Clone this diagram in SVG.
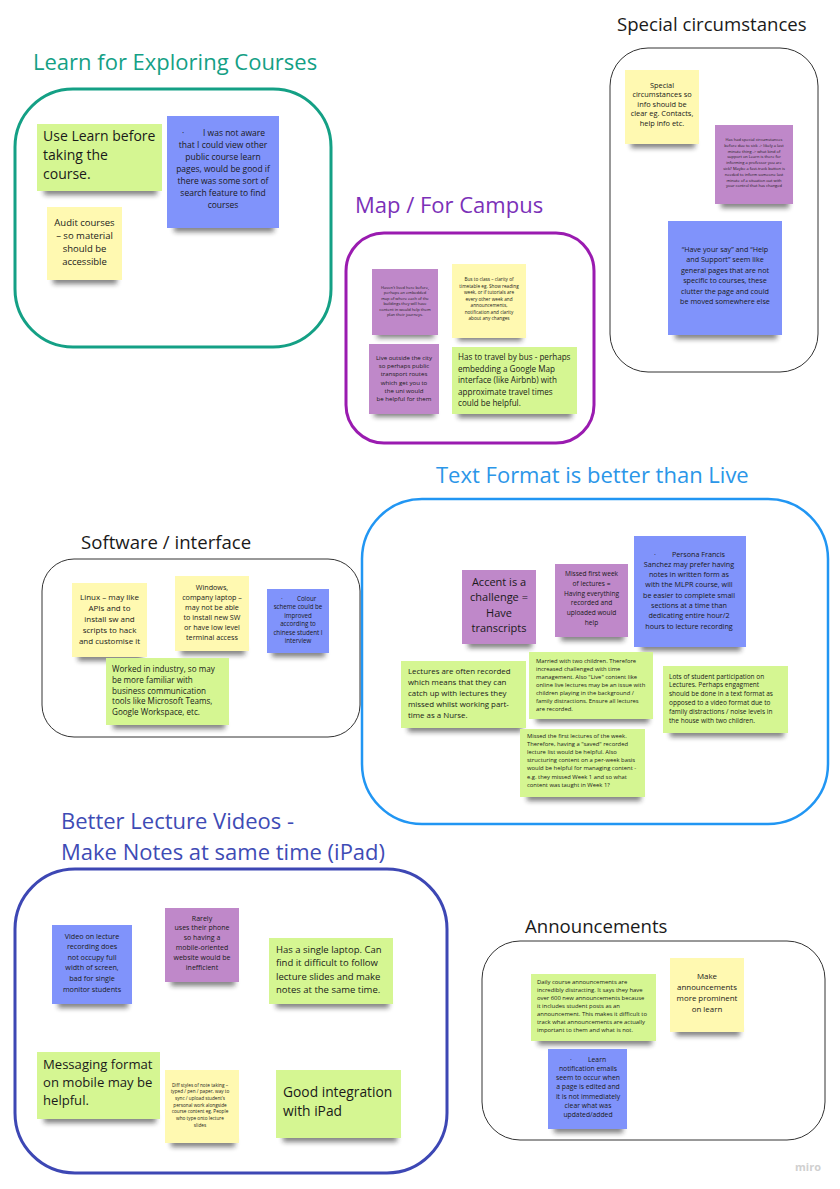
<svg xmlns="http://www.w3.org/2000/svg" width="840" height="1189" viewBox="0 0 840 1189">
<defs>
<filter id="blur" x="-20%" y="-100%" width="140%" height="300%"><feGaussianBlur stdDeviation="2.5"/></filter>
<style>
text{font-family:"Open Sans","Noto Sans","Liberation Sans",sans-serif;fill:#1a1a1a}
.c{text-anchor:middle}
.ttl{font-size:22px}
.sub{font-size:18.6px}
.y{fill:#fff9b1}.g{fill:#d5f692}.p{fill:#bf88c9}.b{fill:#8093fb}
.fr{fill:none}
.sh{fill:#1a1a1a;opacity:.55;filter:url(#blur);transform:translateY(3px)}
</style>
</defs>
<rect width="840" height="1189" fill="#fff"/>

<!-- Frames and titles -->
<g id="frame-learn">
<text class="ttl" x="33" y="70" style="fill:#14a085">Learn for Exploring Courses</text>
<rect class="fr" x="15" y="89" width="316" height="258" rx="58" stroke="#14a085" stroke-width="3"/>
</g>
<g id="frame-map">
<text class="ttl" x="355" y="213" style="fill:#7b30b8">Map / For Campus</text>
<rect class="fr" x="346" y="233" width="248" height="210" rx="38" stroke="#9a1bb0" stroke-width="3"/>
</g>
<g id="frame-special">
<text class="sub" x="617" y="31">Special circumstances</text>
<rect class="fr" x="610" y="48" width="208" height="324" rx="38" stroke="#333" stroke-width="1"/>
</g>
<g id="frame-text">
<text class="ttl" x="436" y="483" style="fill:#2b96e8">Text Format is better than Live</text>
<rect class="fr" x="362" y="499" width="466" height="325" rx="60" stroke="#2196f3" stroke-width="2.5"/>
</g>
<g id="frame-software">
<text class="sub" x="81" y="549">Software / interface</text>
<rect class="fr" x="42" y="559" width="318" height="178" rx="32" stroke="#333" stroke-width="1"/>
</g>
<g id="frame-lecture">
<text class="ttl" x="61" y="829" style="fill:#3e4bb5">Better Lecture Videos -</text>
<text class="ttl" x="61" y="860" style="fill:#3e4bb5">Make Notes at same time (iPad)</text>
<rect class="fr" x="15" y="869" width="432" height="304" rx="60" stroke="#3d47b4" stroke-width="3"/>
</g>
<g id="frame-announce">
<text class="sub" x="525" y="933">Announcements</text>
<rect class="fr" x="482" y="941" width="343" height="199" rx="38" stroke="#333" stroke-width="1"/>
</g>

<g id="connectors"/>

<!-- Learn for Exploring Courses -->
<g id="n-use-learn">
<rect class="sh" x="44" y="183" width="113" height="9"/>
<rect class="g" x="37" y="124" width="125" height="67"/>
<text style="font-size:14px"><tspan x="43" y="141">Use Learn before</tspan><tspan x="43" y="160">taking the</tspan><tspan x="43" y="179">course.</tspan></text>
</g>
<g id="n-not-aware">
<rect class="sh" x="174" y="220" width="100" height="9"/>
<rect class="b" x="167" y="116" width="112" height="112"/>
<text style="font-size:8.5px"><tspan x="182" y="136">·</tspan><tspan x="203" y="136">I was not aware</tspan></text>
<text class="c" style="font-size:8.5px"><tspan x="223" y="148">that I could view other</tspan><tspan x="223" y="160">public course learn</tspan><tspan x="223" y="172">pages, would be good if</tspan><tspan x="223" y="184">there was some sort of</tspan><tspan x="223" y="196">search feature to find</tspan><tspan x="223" y="208">courses</tspan></text>
</g>
<g id="n-audit">
<rect class="sh" x="53" y="272" width="64" height="9"/>
<rect class="y" x="47" y="207" width="75" height="73"/>
<text class="c" style="font-size:9.5px"><tspan x="84.5" y="226">Audit courses</tspan><tspan x="84.5" y="239">– so material</tspan><tspan x="84.5" y="252">should be</tspan><tspan x="84.5" y="265">accessible</tspan></text>
</g>

<!-- Map / For Campus -->
<g id="n-map-lived">
<rect class="sh" x="377" y="327" width="57" height="8"/>
<rect class="p" x="372" y="269" width="66" height="66"/>
<text class="c" style="font-size:4px"><tspan x="405" y="288.5">Haven't lived here before,</tspan><tspan x="405" y="294">perhaps an embedded</tspan><tspan x="405" y="299.5">map of where each of the</tspan><tspan x="405" y="305">buildings they will have</tspan><tspan x="405" y="310.5">content in would help them</tspan><tspan x="405" y="316">plan their journeys.</tspan></text>
</g>
<g id="n-map-bus">
<rect class="sh" x="458" y="330" width="64" height="8"/>
<rect class="y" x="452" y="264" width="74" height="74"/>
<text class="c" style="font-size:4.7px"><tspan x="489" y="281">Bus to class – clarity of</tspan><tspan x="489" y="287.5">timetable eg. Show reading</tspan><tspan x="489" y="294">week, or if tutorials are</tspan><tspan x="489" y="300.5">every other week and</tspan><tspan x="489" y="307">announcements,</tspan><tspan x="489" y="313.5">notification and clarity</tspan><tspan x="489" y="320">about any changes</tspan></text>
</g>
<g id="n-map-outside">
<rect class="sh" x="374" y="406" width="61" height="8"/>
<rect class="p" x="369" y="344" width="70" height="70"/>
<text class="c" style="font-size:6.1px"><tspan x="404" y="360">Live outside the city</tspan><tspan x="404" y="368.2">so perhaps public</tspan><tspan x="404" y="376.4">transport routes</tspan><tspan x="404" y="384.6">which get you to</tspan><tspan x="404" y="392.8">the uni would</tspan><tspan x="404" y="401">be helpful for them</tspan></text>
</g>
<g id="n-map-travel">
<rect class="sh" x="458" y="406" width="114" height="9"/>
<rect class="g" x="452" y="347" width="125" height="67"/>
<text style="font-size:8.1px"><tspan x="458" y="360">Has to travel by bus - perhaps</tspan><tspan x="458" y="371.5">embedding a Google Map</tspan><tspan x="458" y="383">interface (like Airbnb) with</tspan><tspan x="458" y="394.5">approximate travel times</tspan><tspan x="458" y="406">could be helpful.</tspan></text>
</g>

<!-- Special circumstances -->
<g id="n-sc-info">
<rect class="sh" x="631" y="136" width="64" height="9"/>
<rect class="y" x="625" y="70" width="74" height="74"/>
<text class="c" style="font-size:7.4px"><tspan x="662" y="87.5">Special</tspan><tspan x="662" y="97">circumstances so</tspan><tspan x="662" y="106.5">info should be</tspan><tspan x="662" y="116">clear eg. Contacts,</tspan><tspan x="662" y="125.5">help info etc.</tspan></text>
</g>
<g id="n-sc-sick">
<rect class="sh" x="721" y="196" width="68" height="9"/>
<rect class="p" x="715" y="125" width="78" height="79"/>
<text class="c" style="font-size:4px"><tspan x="754" y="141">Has had special circumstances</tspan><tspan x="754" y="146.8">before due to sick -&gt; likely a last</tspan><tspan x="754" y="152.6">minute thing -&gt; what kind of</tspan><tspan x="754" y="158.4">support on Learn is there for</tspan><tspan x="754" y="164.2">informing a professor you are</tspan><tspan x="754" y="170">sick? Maybe a fast-track button is</tspan><tspan x="754" y="175.8">needed to inform someone last</tspan><tspan x="754" y="181.6">minute of a situation out with</tspan><tspan x="754" y="187.4">your control that has changed</tspan></text>
</g>
<g id="n-sc-say">
<rect class="sh" x="675" y="327" width="102" height="9"/>
<rect class="b" x="668" y="221" width="114" height="114"/>
<text class="c" style="font-size:7.2px"><tspan x="725" y="251.5">“Have your say” and “Help</tspan><tspan x="725" y="262">and Support” seem like</tspan><tspan x="725" y="272.5">general pages that are not</tspan><tspan x="725" y="283">specific to courses, these</tspan><tspan x="725" y="293.5">clutter the page and could</tspan><tspan x="725" y="304">be moved somewhere else</tspan></text>
</g>

<!-- Text Format is better than Live -->
<g id="n-tf-accent">
<rect class="sh" x="468" y="636" width="64" height="9"/>
<rect class="p" x="462" y="570" width="74" height="74"/>
<text class="c" style="font-size:11px"><tspan x="499" y="586">Accent is a</tspan><tspan x="499" y="601.3">challenge =</tspan><tspan x="499" y="616.6">Have</tspan><tspan x="499" y="632">transcripts</tspan></text>
</g>
<g id="n-tf-missed-week">
<rect class="sh" x="561" y="629" width="63" height="9"/>
<rect class="p" x="555" y="564" width="73" height="73"/>
<text class="c" style="font-size:6.6px"><tspan x="591.5" y="576">Missed first week</tspan><tspan x="591.5" y="585.8">of lectures =</tspan><tspan x="591.5" y="595.6">Having everything</tspan><tspan x="591.5" y="605.4">recorded and</tspan><tspan x="591.5" y="615.2">uploaded would</tspan><tspan x="591.5" y="625">help</tspan></text>
</g>
<g id="n-tf-persona">
<rect class="sh" x="641" y="639" width="100" height="9"/>
<rect class="b" x="634" y="536" width="112" height="111"/>
<text style="font-size:7.2px"><tspan x="654" y="556.5">·</tspan><tspan x="672" y="556.5">Persona Francis</tspan></text>
<text class="c" style="font-size:7.2px"><tspan x="689" y="566.8">Sanchez may prefer having</tspan><tspan x="689" y="577.1">notes in written form as</tspan><tspan x="689" y="587.4">with the MLPR course, will</tspan><tspan x="689" y="597.7">be easier to complete small</tspan><tspan x="689" y="608">sections at a time than</tspan><tspan x="689" y="618.3">dedicating entire hour/2</tspan><tspan x="689" y="628.6">hours to lecture recording</tspan></text>
</g>
<g id="n-tf-lectures">
<rect class="sh" x="408" y="720" width="114" height="9"/>
<rect class="g" x="401" y="661" width="125" height="67"/>
<text style="font-size:7.9px"><tspan x="408" y="674">Lectures are often recorded</tspan><tspan x="408" y="685.1">which means that they can</tspan><tspan x="408" y="696.2">catch up with lectures they</tspan><tspan x="408" y="707.3">missed whilst working part-</tspan><tspan x="408" y="718.4">time as a Nurse.</tspan></text>
</g>
<g id="n-tf-married">
<rect class="sh" x="536" y="711" width="113" height="9"/>
<rect class="g" x="529" y="652" width="124" height="67"/>
<text style="font-size:5.85px"><tspan x="536" y="663">Married with two children. Therefore</tspan><tspan x="536" y="671">increased challenged with time</tspan><tspan x="536" y="679">management. Also "Live" content like</tspan><tspan x="536" y="687">online live lectures may be an issue with</tspan><tspan x="536" y="695">children playing in the background /</tspan><tspan x="536" y="703">family distractions. Ensure all lectures</tspan><tspan x="536" y="711">are recorded.</tspan></text>
</g>
<g id="n-tf-lots">
<rect class="sh" x="670" y="725" width="114" height="9"/>
<rect class="g" x="663" y="666" width="125" height="67"/>
<text style="font-size:6.5px"><tspan x="669" y="678.5">Lots of student participation on</tspan><tspan x="669" y="687.4">Lectures. Perhaps engagment</tspan><tspan x="669" y="696.3">should be done in a text format as</tspan><tspan x="669" y="705.2">opposed to a video format due to</tspan><tspan x="669" y="714.1">family distractions / noise levels in</tspan><tspan x="669" y="723">the house with two children.</tspan></text>
</g>
<g id="n-tf-missed-first">
<rect class="sh" x="527" y="789" width="114" height="9"/>
<rect class="g" x="520" y="729" width="125" height="68"/>
<text style="font-size:5.85px"><tspan x="527" y="738">Missed the first lectures of the week.</tspan><tspan x="527" y="746.1">Therefore, having a "saved" recorded</tspan><tspan x="527" y="754.2">lecture list would be helpful. Also</tspan><tspan x="527" y="762.3">structuring content on a per-week basis</tspan><tspan x="527" y="770.4">would be helpful for managing content -</tspan><tspan x="527" y="778.5">e.g. they missed Week 1 and so what</tspan><tspan x="527" y="786.6">content was taught in Week 1?</tspan></text>
</g>

<!-- Software / interface -->
<g id="n-sw-linux">
<rect class="sh" x="78" y="649" width="64" height="9"/>
<rect class="y" x="72" y="583" width="75" height="74"/>
<text class="c" style="font-size:8px"><tspan x="109.5" y="599.5">Linux – may like</tspan><tspan x="109.5" y="610.5">APIs and to</tspan><tspan x="109.5" y="621.5">install sw and</tspan><tspan x="109.5" y="632.5">scripts to hack</tspan><tspan x="109.5" y="643.5">and customise it</tspan></text>
</g>
<g id="n-sw-windows">
<rect class="sh" x="181" y="643" width="64" height="9"/>
<rect class="y" x="175" y="576" width="74" height="75"/>
<text class="c" style="font-size:7.2px"><tspan x="212" y="589.5">Windows,</tspan><tspan x="212" y="599.5">company laptop –</tspan><tspan x="212" y="609.5">may not be able</tspan><tspan x="212" y="619.5">to install new SW</tspan><tspan x="212" y="629.5">or have low level</tspan><tspan x="212" y="639.5">terminal access</tspan></text>
</g>
<g id="n-sw-colour">
<rect class="sh" x="272" y="645" width="53" height="9"/>
<rect class="b" x="267" y="589" width="62" height="64"/>
<text style="font-size:6.2px"><tspan x="281" y="601">·</tspan><tspan x="297" y="601">Colour</tspan></text>
<text class="c" style="font-size:6.2px"><tspan x="298" y="609.4">scheme could be</tspan><tspan x="298" y="617.8">improved</tspan><tspan x="298" y="626.2">according to</tspan><tspan x="298" y="634.6">chinese student I</tspan><tspan x="298" y="643">interview</tspan></text>
</g>
<g id="n-sw-worked">
<rect class="sh" x="113" y="717" width="112" height="9"/>
<rect class="g" x="106" y="658" width="123" height="67"/>
<text style="font-size:8.1px"><tspan x="112" y="672">Worked in industry, so may</tspan><tspan x="112" y="682.8">be more familiar with</tspan><tspan x="112" y="693.6">business communication</tspan><tspan x="112" y="704.4">tools like Microsoft Teams,</tspan><tspan x="112" y="715.2">Google Workspace, etc.</tspan></text>
</g>

<!-- Better Lecture Videos -->
<g id="n-bl-video">
<rect class="sh" x="58" y="996" width="70" height="9"/>
<rect class="b" x="52" y="925" width="80" height="79"/>
<text class="c" style="font-size:7.2px"><tspan x="92" y="938.5">Video on lecture</tspan><tspan x="92" y="949.1">recording does</tspan><tspan x="92" y="959.7">not occupy full</tspan><tspan x="92" y="970.3">width of screen,</tspan><tspan x="92" y="980.9">bad for single</tspan><tspan x="92" y="991.5">monitor students</tspan></text>
</g>
<g id="n-bl-rarely">
<rect class="sh" x="171" y="974" width="64" height="9"/>
<rect class="p" x="165" y="908" width="74" height="74"/>
<text class="c" style="font-size:7px"><tspan x="202" y="920.5">Rarely</tspan><tspan x="202" y="930.3">uses their phone</tspan><tspan x="202" y="940.1">so having a</tspan><tspan x="202" y="949.9">mobile-oriented</tspan><tspan x="202" y="959.7">website would be</tspan><tspan x="202" y="969.5">inefficient</tspan></text>
</g>
<g id="n-bl-laptop">
<rect class="sh" x="276" y="996" width="113" height="9"/>
<rect class="g" x="269" y="938" width="124" height="66"/>
<text style="font-size:9.5px"><tspan x="276" y="953">Has a single laptop. Can</tspan><tspan x="276" y="966.3">find it difficult to follow</tspan><tspan x="276" y="979.6">lecture slides and make</tspan><tspan x="276" y="993">notes at the same time.</tspan></text>
</g>
<g id="n-bl-messaging">
<rect class="sh" x="44" y="1111" width="112" height="9"/>
<rect class="g" x="37" y="1052" width="123" height="67"/>
<text style="font-size:13.1px"><tspan x="43" y="1068.5">Messaging format</tspan><tspan x="43" y="1086.5">on mobile may be</tspan><tspan x="43" y="1104.5">helpful.</tspan></text>
</g>
<g id="n-bl-diff">
<rect class="sh" x="171" y="1135" width="64" height="9"/>
<rect class="y" x="165" y="1070" width="74" height="73"/>
<text class="c" style="font-size:4.7px"><tspan x="200" y="1086.5">Diff styles of note taking –</tspan><tspan x="200" y="1093.2">typed / pen / paper, way to</tspan><tspan x="200" y="1099.9">sync / upload student’s</tspan><tspan x="200" y="1106.6">personal work alongside</tspan><tspan x="200" y="1113.3">course content eg. People</tspan><tspan x="200" y="1120">who type onto lecture</tspan><tspan x="200" y="1126.7">slides</tspan></text>
</g>
<g id="n-bl-ipad">
<rect class="sh" x="283" y="1130" width="114" height="9"/>
<rect class="g" x="276" y="1070" width="125" height="68"/>
<text style="font-size:13.8px"><tspan x="283" y="1097">Good integration</tspan><tspan x="283" y="1115.5">with iPad</tspan></text>
</g>

<!-- Announcements -->
<g id="n-an-daily">
<rect class="sh" x="538" y="1033" width="114" height="9"/>
<rect class="g" x="531" y="974" width="125" height="67"/>
<text style="font-size:5.9px"><tspan x="537" y="984">Daily course announcements are</tspan><tspan x="537" y="992">incredibly distracting. It says they have</tspan><tspan x="537" y="1000">over 600 new announcements because</tspan><tspan x="537" y="1008">it includes student posts as an</tspan><tspan x="537" y="1016">announcement. This makes it difficult to</tspan><tspan x="537" y="1024">track what announcements are actually</tspan><tspan x="537" y="1032">important to them and what is not.</tspan></text>
</g>
<g id="n-an-make">
<rect class="sh" x="676" y="1024" width="64" height="9"/>
<rect class="y" x="670" y="958" width="74" height="74"/>
<text class="c" style="font-size:7.9px"><tspan x="707" y="978.5">Make</tspan><tspan x="707" y="989.8">announcements</tspan><tspan x="707" y="1001.1">more prominent</tspan><tspan x="707" y="1012.4">on learn</tspan></text>
</g>
<g id="n-an-learn">
<rect class="sh" x="554" y="1121" width="69" height="9"/>
<rect class="b" x="548" y="1049" width="79" height="80"/>
<text style="font-size:6.8px"><tspan x="570" y="1061.5">·</tspan><tspan x="588" y="1061.5">Learn</tspan></text>
<text class="c" style="font-size:6.8px"><tspan x="588" y="1070.8">notification emails</tspan><tspan x="588" y="1080.1">seem to occur when</tspan><tspan x="588" y="1089.4">a page is edited and</tspan><tspan x="588" y="1098.7">it is not immediately</tspan><tspan x="588" y="1108">clear what was</tspan><tspan x="588" y="1117.3">updated/added</tspan></text>
</g>

<text x="795" y="1171" style="font-size:11px;font-weight:bold;fill:#d0d0d0">miro</text>
</svg>
